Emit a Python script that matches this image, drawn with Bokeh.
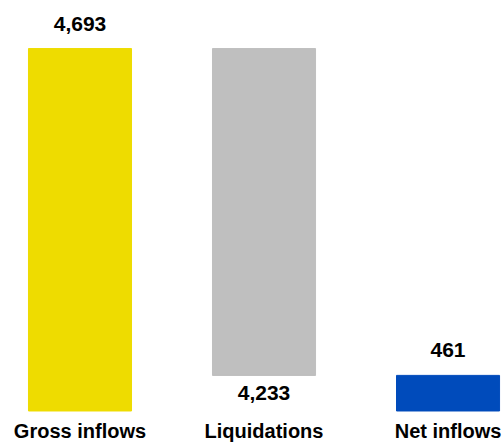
from bokeh.plotting import figure
from bokeh.models import ColumnDataSource, Range1d
from bokeh.core.properties import value
from bokeh.embed import file_html
from bokeh.resources import INLINE

categories = ["Gross inflows", "Liquidations", "Net inflows"]
gross_inflows = 4693
liquidations = 4233
net_inflows = 461
labels = ["4,693", "4,233", "461"]
colors = ["#EEDC00", "#BFBFBF", "#004BBB"]

xs = [0, 1, 2]
bottoms = [0, gross_inflows - liquidations, 0]
tops = [gross_inflows, gross_inflows, net_inflows]

src = ColumnDataSource(dict(x=xs, bottom=bottoms, top=tops, color=colors,
                            cat=categories, label=labels))

p = figure(width=502, height=443, output_backend="svg", toolbar_location=None,
           x_range=Range1d(-0.432, 2.296), y_range=Range1d(-421, 5315),
           min_border=0, outline_line_color=None)
p.axis.visible = False
p.grid.visible = False

p.vbar(x="x", bottom="bottom", top="top", width=0.56, color="color", source=src)

font = value("Liberation Sans")
fs = "21px"
above = ColumnDataSource(dict(x=[xs[0], xs[2]], y=[tops[0], tops[2]], t=[labels[0], labels[2]]))
p.text(x="x", y="y", text="t", source=above, text_align="center",
       text_baseline="middle", y_offset=-25, text_font=font,
       text_font_size=fs, text_font_style="bold", text_color="#000000")
below = ColumnDataSource(dict(x=[xs[1]], y=[bottoms[1]], t=[labels[1]]))
p.text(x="x", y="y", text="t", source=below, text_align="center",
       text_baseline="middle", y_offset=18, text_font=font,
       text_font_size=fs, text_font_style="bold", text_color="#000000")

catsrc = ColumnDataSource(dict(x=xs, y=[0, 0, 0], t=categories))
p.text(x="x", y="y", text="t", source=catsrc, text_align="center",
       text_baseline="middle", y_offset=20.5, text_font=font,
       text_font_size="20px", text_font_style="bold", text_color="#000000")

open("out.html", "w").write(file_html(p, INLINE))
